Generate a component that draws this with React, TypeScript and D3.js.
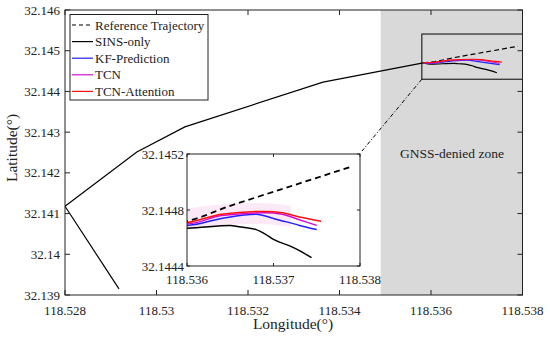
import * as d3 from 'd3';

// common path before the GNSS outage (all methods agree here)
const pathLon = [118.52918, 118.528, 118.52957, 118.53062, 118.53364, 118.53583];
const pathLat = [32.13915, 32.14118, 32.14251, 32.14313, 32.14423, 32.1447];

// outage segment
const refLon = [118.5360, 118.5365, 118.537, 118.5375, 118.5379];
const refLat = [32.14472, 32.14483, 32.14493, 32.14503, 32.14511];

const sinsLon = [118.536, 118.5365, 118.5366, 118.5368, 118.5369, 118.537, 118.5372, 118.5373, 118.53744];
const sinsLat = [32.14467, 32.14469, 32.14468, 32.14466, 32.14463, 32.14459, 32.14454, 32.14451, 32.14446];

const kfLon = [118.536, 118.5364, 118.5368, 118.537, 118.5373, 118.5375];
const kfLat = [32.14469, 32.14474, 32.14477, 32.14474, 32.14469, 32.14466];

const tcnLon = [118.536, 118.5364, 118.5369, 118.5371, 118.5373, 118.5375];
const tcnLat = [32.1447, 32.14476, 32.14478, 32.14477, 32.14473, 32.14469];

const attLon = [118.536, 118.5364, 118.5369, 118.5371, 118.5373, 118.53755];
const attLat = [32.14471, 32.14477, 32.14479, 32.14478, 32.14475, 32.14472];

// faint band in the inset
const bandLon = [118.536, 118.5364, 118.5368, 118.5372];
const bandHi = [32.14481, 32.14484, 32.14485, 32.14483];
const bandLo = [32.14466, 32.14469, 32.1447, 32.14468];

const xTicks = [118.528, 118.53, 118.532, 118.534, 118.536, 118.538];
const yTicks = [32.139, 32.14, 32.141, 32.142, 32.143, 32.144, 32.145, 32.146];
const inXTicks = [118.536, 118.537, 118.538];
const inYTicks = [32.1444, 32.1448, 32.1452];

const deniedStart = 118.5349;
const zoomBox = { lon0: 118.5358, lon1: 118.538, lat0: 32.1443, lat1: 32.14541 };

const series = [
  { name: 'Reference Trajectory', color: '#000', dash: '5,3' },
  { name: 'SINS-only', color: '#000', dash: null },
  { name: 'KF-Prediction', color: '#2020ff', dash: null },
  { name: 'TCN', color: '#d010d0', dash: null },
  { name: 'TCN-Attention', color: '#ff1010', dash: null },
];

const FONT = '"Liberation Serif", "Times New Roman", serif';
const fmt = (v: number) => String(+v.toFixed(4));
const pts = (lon: number[], lat: number[]) => lon.map((d, i) => [d, lat[i]] as [number, number]);

export default function App() {
  const x = d3.scaleLinear().domain([118.528, 118.538]).range([65, 522.5]);
  const y = d3.scaleLinear().domain([32.139, 32.146]).range([295, 10]);
  const ix = d3.scaleLinear().domain([118.536, 118.538]).range([187, 360]);
  const iy = d3.scaleLinear().domain([32.1444, 32.1452]).range([266, 154]);

  const mk = (sx: any, sy: any, curve = true) =>
    d3.line<[number, number]>().x(d => sx(d[0])).y(d => sy(d[1])).curve(curve ? d3.curveMonotoneX : d3.curveLinear);

  const start: [number, number] = [pathLon[pathLon.length - 1], pathLat[pathLat.length - 1]];
  const outage = [
    pts(refLon, refLat),
    pts(sinsLon, sinsLat),
    pts(kfLon, kfLat),
    pts(tcnLon, tcnLat),
    pts(attLon, attLat),
  ];
  const pre = pts(pathLon, pathLat);
  const lineLin = mk(x, y, false);
  const lineMain = mk(x, y);
  const lineIn = mk(ix, iy);

  const band = d3.area<number>()
    .x((_, i) => ix(bandLon[i]))
    .y0((_, i) => iy(bandLo[i]))
    .y1((_, i) => iy(bandHi[i]))
    .curve(d3.curveMonotoneX);

  const [x0, x1] = x.range();
  const [y0, y1] = [y(32.146), y(32.139)];
  const [ix0, ix1] = ix.range();
  const [iy0, iy1] = [iy(32.1452), iy(32.1444)];

  return (
    <svg width={550} height={344} style={{ position: 'absolute', left: 0, top: 0, fontFamily: FONT }}>
      <defs>
        <clipPath id="mainClip"><rect x={x0} y={y0} width={x1 - x0} height={y1 - y0} /></clipPath>
        <clipPath id="inClip"><rect x={ix0} y={iy0} width={ix1 - ix0} height={iy1 - iy0} /></clipPath>
      </defs>
      <rect width={550} height={344} fill="#fff" />
      {/* GNSS-denied zone */}
      <rect x={x(deniedStart)} y={y0} width={x1 - x(deniedStart)} height={y1 - y0} fill="#d9d9d9" />
      <text x={452} y={158} fontSize={13.5} textAnchor="middle" fill="#222">GNSS-denied zone</text>

      <g clipPath="url(#mainClip)" fill="none">
        <path d={lineLin(pre) || ''} stroke="#000" strokeWidth={1.2} />
        {outage.map((p, i) => (
          <path key={i} d={lineMain([start, ...p]) || ''} stroke={series[i].color}
            strokeWidth={1.2} strokeDasharray={series[i].dash || undefined} />
        ))}
      </g>

      {/* zoom box and connector */}
      <rect x={x(zoomBox.lon0)} y={y(zoomBox.lat1)} width={x(zoomBox.lon1) - x(zoomBox.lon0)}
        height={y(zoomBox.lat0) - y(zoomBox.lat1)} fill="none" stroke="#000" strokeWidth={1} />
      <line x1={x(zoomBox.lon0)} y1={y(zoomBox.lat0)} x2={ix1 + 2} y2={iy0 - 3}
        stroke="#000" strokeWidth={1} strokeDasharray="4,2,1,2" />

      {/* main axes */}
      <rect x={x0} y={y0} width={x1 - x0} height={y1 - y0} fill="none" stroke="#222" strokeWidth={1} />
      {xTicks.map(t => (
        <g key={t}>
          <line x1={x(t)} x2={x(t)} y1={y1} y2={y1 - 5} stroke="#222" />
          <line x1={x(t)} x2={x(t)} y1={y0} y2={y0 + 5} stroke="#222" />
          <text x={x(t)} y={315} fontSize={13} textAnchor="middle" fill="#222">{fmt(t)}</text>
        </g>
      ))}
      {yTicks.map(t => (
        <g key={t}>
          <line x1={x0} x2={x0 + 5} y1={y(t)} y2={y(t)} stroke="#222" />
          <line x1={x1} x2={x1 - 5} y1={y(t)} y2={y(t)} stroke="#222" />
          <text x={60} y={y(t) + 4.5} fontSize={13} textAnchor="end" fill="#222">{fmt(t)}</text>
        </g>
      ))}
      <text x={293} y={329} fontSize={15.5} textAnchor="middle" fill="#222">Longitude(°)</text>
      <text transform="translate(17,148) rotate(-90)" fontSize={15.5} textAnchor="middle" fill="#222">Latitude(°)</text>

      {/* legend */}
      <rect x={70} y={14.5} width={138} height={85.5} fill="#fff" stroke="#222" strokeWidth={1} />
      {series.map((s, i) => {
        const ly = 25 + i * 16.6;
        return (
          <g key={s.name}>
            <line x1={72} x2={93} y1={ly} y2={ly} stroke={s.color} strokeWidth={1.2}
              strokeDasharray={s.dash ? '4,3' : undefined} />
            <text x={95} y={ly + 4.5} fontSize={13} fill="#222">{s.name}</text>
          </g>
        );
      })}

      {/* inset */}
      <rect x={ix0} y={iy0} width={ix1 - ix0} height={iy1 - iy0} fill="#fff" />
      <g clipPath="url(#inClip)" fill="none">
        <path d={band(bandLon) || ''} fill="#fbe0f3" fillOpacity={0.7} stroke="none" />
        {outage.map((p, i) => (
          <path key={i} d={lineIn([start, ...p]) || ''} stroke={series[i].color}
            strokeWidth={i === 0 ? 1.8 : 1.5} strokeDasharray={i === 0 ? '6,4' : undefined} />
        ))}
      </g>
      <rect x={ix0} y={iy0} width={ix1 - ix0} height={iy1 - iy0} fill="none" stroke="#222" strokeWidth={1} />
      {inXTicks.map(t => (
        <g key={t}>
          <line x1={ix(t)} x2={ix(t)} y1={iy1} y2={iy1 - 3} stroke="#222" />
          <line x1={ix(t)} x2={ix(t)} y1={iy0} y2={iy0 + 3} stroke="#222" />
          <text x={ix(t)} y={284} fontSize={13} textAnchor="middle" fill="#222">{fmt(t)}</text>
        </g>
      ))}
      {inYTicks.map(t => (
        <g key={t}>
          <line x1={ix0} x2={ix0 + 3} y1={iy(t)} y2={iy(t)} stroke="#222" />
          <line x1={ix1} x2={ix1 - 3} y1={iy(t)} y2={iy(t)} stroke="#222" />
          <text x={ix0 - 3} y={iy(t) + 4.5} fontSize={13} textAnchor="end" fill="#222">{fmt(t)}</text>
        </g>
      ))}
    </svg>
  );
}
